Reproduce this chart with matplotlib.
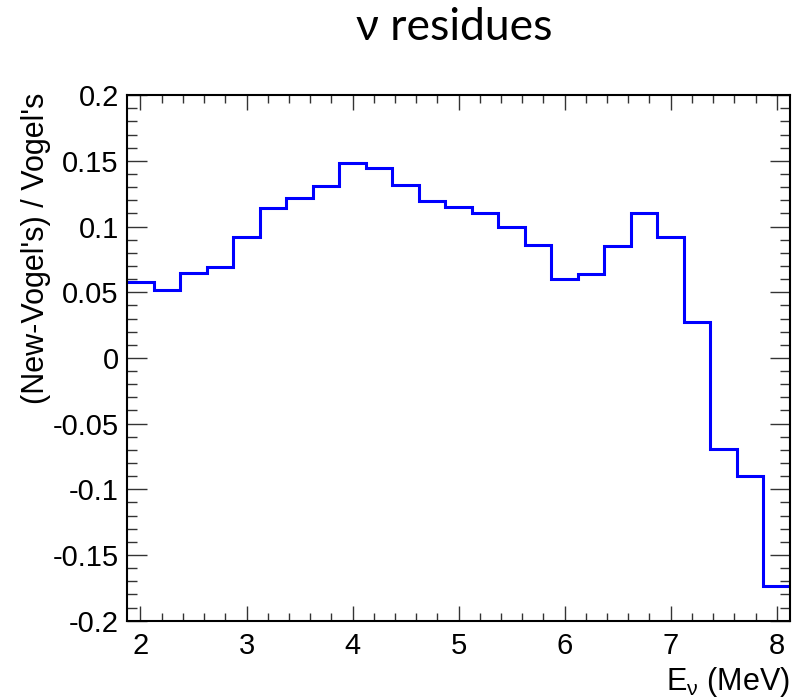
#!/usr/bin/env python3
"""
Relative difference between the new reactor antineutrino spectrum and
Vogel's parameterisation, drawn as a ROOT-style step histogram.
"""

import numpy as np
import matplotlib
matplotlib.use("Agg")
import matplotlib.pyplot as plt
from matplotlib.ticker import MultipleLocator

# Energy binning (MeV): 25 bins of 0.25 MeV
bin_lo = 1.875
bin_hi = 8.125
n_bins = 25

# (New - Vogel's) / Vogel's per bin
residues = [
    0.0577, 0.0519, 0.0646, 0.0689, 0.0919,
    0.1144, 0.1218, 0.1309, 0.1484, 0.1448,
    0.1313, 0.1198, 0.1150, 0.1104, 0.1000,
    0.0856, 0.0600, 0.0638, 0.0853, 0.1106,
    0.0922, 0.0276, -0.0692, -0.0900, -0.1736,
]

x_ticks = [2, 3, 4, 5, 6, 7, 8]
y_ticks = [-0.2, -0.15, -0.1, -0.05, 0, 0.05, 0.1, 0.15, 0.2]
y_tick_labels = ["-0.2", "-0.15", "-0.1", "-0.05", "0", "0.05", "0.1", "0.15", "0.2"]

plt.rcParams['font.family'] = ['Liberation Sans', 'DejaVu Sans']
plt.rcParams['mathtext.fontset'] = 'custom'
plt.rcParams['mathtext.rm'] = 'Liberation Sans'
plt.rcParams['mathtext.it'] = 'Liberation Sans'
plt.rcParams['mathtext.bf'] = 'Liberation Sans'


def main():
    fig = plt.figure(figsize=(8, 7), dpi=100)
    ax = fig.add_axes([0.159, 0.1133, 0.8285, 0.7507])

    edges = np.linspace(bin_lo, bin_hi, n_bins + 1)
    ax.stairs(residues, edges, baseline=None, color='#0000ff', linewidth=2.2)

    ax.set_xlim(bin_lo, bin_hi)
    ax.set_ylim(-0.2, 0.2)

    # ROOT style ticks: inside, on all four sides
    ax.set_xticks(x_ticks)
    ax.set_xticklabels([str(t) for t in x_ticks])
    ax.set_yticks(y_ticks)
    ax.set_yticklabels(y_tick_labels)
    ax.xaxis.set_minor_locator(MultipleLocator(0.2))
    ax.yaxis.set_minor_locator(MultipleLocator(0.01))
    ax.tick_params(which='both', direction='in', top=True, right=True,
                   width=1.0, color='#333333')
    ax.tick_params(axis='x', which='major', length=11, pad=8, labelsize=21)
    ax.tick_params(axis='x', which='minor', length=5.5)
    ax.tick_params(axis='y', which='major', length=14.5, pad=6, labelsize=21)
    ax.tick_params(axis='y', which='minor', length=7.5)
    for sp in ax.spines.values():
        sp.set_linewidth(1.5)

    ax.set_ylabel("(New-Vogel's) / Vogel's", fontsize=22, loc='top')
    ax.yaxis.set_label_coords(-0.115, 1.005)

    ax.set_xlabel(r"E$_{\nu}$ (MeV)", fontsize=22, loc='right')
    ax.xaxis.set_label_coords(1.0, -0.085)

    fig.text(0.5675, 0.96, "\u03bd residues", ha='center', va='center',
             fontsize=32, family=['Lato', 'DejaVu Sans'])

    fig.savefig("out.png", dpi=100)


if __name__ == "__main__":
    main()
